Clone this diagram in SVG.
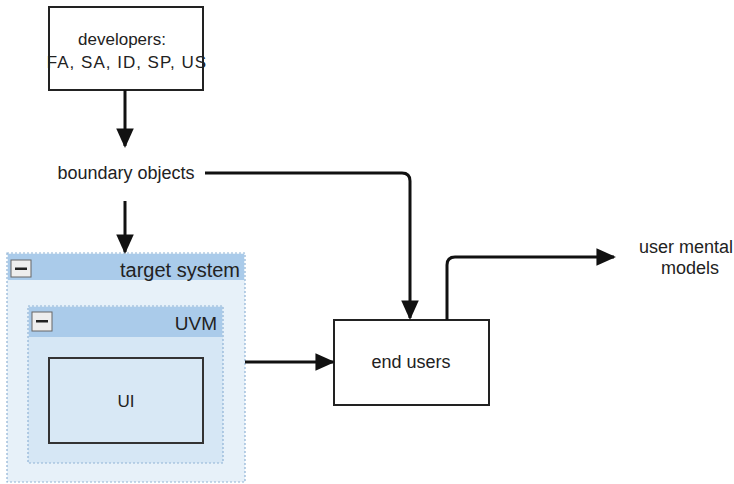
<svg xmlns="http://www.w3.org/2000/svg" width="734" height="484" viewBox="0 0 734 484">
<defs>
<style>
text{font-family:"Liberation Sans",Arial,sans-serif;fill:#222}
.box{fill:#fff;stroke:#222;stroke-width:2}
.edge{fill:none;stroke:#111;stroke-width:3}
.cont{stroke:#8fb3d6;stroke-width:1.2;stroke-dasharray:2 2}
.hdr{fill:#aacbea}
.mn{fill:#eeeeee;stroke:#666;stroke-width:1}
</style>
<marker id="ah" viewBox="0 0 10 10" refX="9" refY="5" markerWidth="6.5" markerHeight="6.5" markerUnits="strokeWidth" orient="auto">
<path d="M0,0.5 L10,5 L0,9.5 z" fill="#111"/>
</marker>
</defs>
<rect width="734" height="484" fill="#fff"/>
<g id="developers">
<rect class="box" x="49" y="7" width="154" height="83"/>
<text x="122" y="45" font-size="17" text-anchor="middle">developers:</text>
<text x="127" y="68" font-size="17" letter-spacing="1" text-anchor="middle">FA, SA, ID, SP, US</text>
</g>
<g id="boundary">
<text x="126" y="179" font-size="18" text-anchor="middle">boundary objects</text>
</g>
<g id="target-system">
<rect x="7" y="253" width="238" height="229" fill="#e7f1f9" class="cont"/>
<rect x="8" y="254" width="236" height="26" class="hdr"/>
<rect class="mn" x="11" y="260" width="20" height="17"/>
<rect x="15" y="267.5" width="12" height="2.5" fill="#222"/>
<text x="240" y="277" font-size="20" text-anchor="end">target system</text>
</g>
<g id="uvm">
<rect x="28" y="306" width="195" height="157" fill="#d6e7f5" class="cont"/>
<rect x="29" y="307" width="193" height="30" class="hdr"/>
<rect class="mn" x="32" y="312" width="20" height="19"/>
<rect x="36" y="320" width="12" height="2.5" fill="#222"/>
<text x="217" y="330" font-size="19" text-anchor="end">UVM</text>
</g>
<g id="ui">
<rect x="49" y="358" width="154" height="85" fill="#d8e8f5" stroke="#333" stroke-width="2"/>
<text x="126" y="407" font-size="17" text-anchor="middle">UI</text>
</g>
<g id="end-users">
<rect class="box" x="334" y="320" width="155" height="85"/>
<text x="411" y="368" font-size="18" text-anchor="middle">end users</text>
</g>
<g id="user-mental-models">
<text x="686" y="253" font-size="18" text-anchor="middle">user mental</text>
<text x="690" y="274" font-size="18" text-anchor="middle">models</text>
</g>
<g id="connectors">
<path class="edge" d="M125,90 V146" marker-end="url(#ah)"/>
<path class="edge" d="M125,201 V252" marker-end="url(#ah)"/>
<path class="edge" d="M205,173 H402 Q410,173 410,181 V318" marker-end="url(#ah)"/>
<path class="edge" d="M245,362 H333" marker-end="url(#ah)"/>
<path class="edge" d="M447,320 V265 Q447,257 455,257 H614" marker-end="url(#ah)"/>
</g>
</svg>
